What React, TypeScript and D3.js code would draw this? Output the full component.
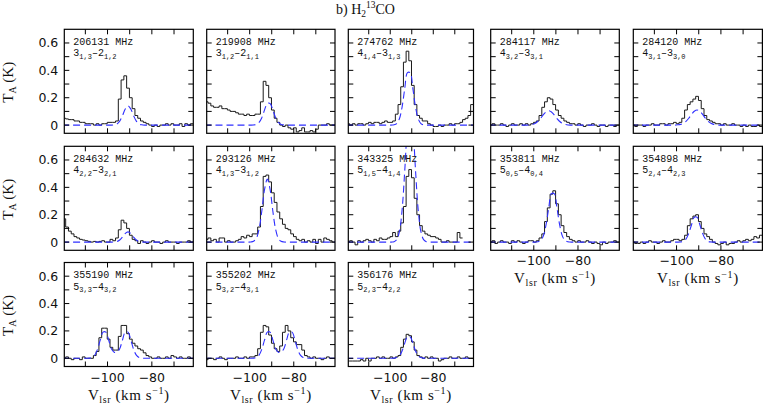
import React from 'react';
import * as d3 from 'd3';

// channel centres (km/s)
const VEL = [-119.5, -118.25, -117, -115.75, -114.5, -113.25, -112, -110.75, -109.5, -108.25,
  -107, -105.75, -104.5, -103.25, -102, -100.75, -99.5, -98.25, -97, -95.75,
  -94.5, -93.25, -92, -90.75, -89.5, -88.25, -87, -85.75, -84.5, -83.25,
  -82, -80.75, -79.5, -78.25, -77, -75.75, -74.5, -73.25, -72, -70.75,
  -69.5, -68.25, -67, -65.75, -64.5, -63.25, -62];

const X_TICKS = [-110, -100, -90, -80, -70];
const X_TICK_LABELS = [-100, -80];
const Y_TICKS = [0, 0.1, 0.2, 0.3, 0.4, 0.5, 0.6];
const Y_TICK_LABELS = [0, 0.2, 0.4, 0.6];

const FREQS = ['206131 MHz', '219908 MHz', '274762 MHz', '284117 MHz', '284120 MHz',
  '284632 MHz', '293126 MHz', '343325 MHz', '353811 MHz', '354898 MHz',
  '355190 MHz', '355202 MHz', '356176 MHz'];

// [upper J, upper Ka,Kc, lower J, lower Ka,Kc]
const TRANSITIONS = [
  ['3', '1,3', '2', '1,2'], ['3', '1,2', '2', '1,1'], ['4', '1,4', '3', '1,3'], ['4', '3,2', '3', '3,1'], ['4', '3,1', '3', '3,0'],
  ['4', '2,2', '3', '2,1'], ['4', '1,3', '3', '1,2'], ['5', '1,5', '4', '1,4'], ['5', '0,5', '4', '0,4'], ['5', '2,4', '4', '2,3'],
  ['5', '3,3', '4', '3,2'], ['5', '3,2', '4', '3,1'], ['5', '2,3', '4', '2,2'],
];

// observed spectra (K)
const S1 = [0.05, 0.045, 0.04, 0.04, 0.03, 0.03, 0.02, 0.02, 0.01, 0.01, 0.01, 0.0, 0.01, 0.0, 0.01, 0.01, 0.02, 0.02, 0.02, 0.03,
  0.19, 0.33, 0.36, 0.27, 0.2, 0.12, 0.07, 0.05, 0.03,
  0.02, 0.01, 0.0, -0.01, 0.0, -0.01, 0.0, 0.0, 0.01, 0.0, 0.01, 0.0, 0.0, 0.01, -0.01, 0.01, 0.0, 0.01];
const S2 = [0.17, 0.16, 0.14, 0.13, 0.13, 0.14, 0.12, 0.12, 0.11, 0.10, 0.10, 0.09, 0.08, 0.08, 0.07, 0.08, 0.07, 0.07, 0.08, 0.08,
  0.17, 0.32, 0.29, 0.2, 0.11, 0.05, 0.02, 0.0, -0.01,
  0.0, -0.02, -0.03, -0.02, -0.05, -0.04, -0.02, -0.05, -0.05, -0.04, -0.05, -0.03, 0.0, 0.0, 0.0, 0.01, 0.0, 0.0];
const S3 = [0.01, 0.0, 0.01, 0.0, 0.01, 0.01, 0.0, 0.01, 0.02, 0.01, 0.02, 0.02, 0.01, 0.02, 0.03, 0.02, 0.02,
  0.03, 0.08, 0.15, 0.28, 0.46, 0.54, 0.47, 0.29, 0.15, 0.07, 0.05, 0.03,
  0.03, 0.01, 0.0, -0.01, -0.01, 0.0, -0.01, 0.0, 0.0, 0.01, 0.0, 0.01, 0.01, 0.02, 0.04, 0.05, 0.07, 0.15];
const S4 = [0.0, 0.01, 0.0, 0.0, 0.01, 0.0, -0.01, 0.0, 0.01, 0.0, 0.0, 0.01, 0.0, 0.01, 0.0, 0.01,
  0.02, 0.03, 0.07, 0.13, 0.17, 0.2, 0.19, 0.15, 0.11, 0.07, 0.05, 0.03, 0.02,
  0.01, 0.01, 0.0, 0.01, 0.0, -0.01, 0.0, 0.0, 0.01, 0.0, -0.01, 0.0, 0.0, -0.01, 0.0, 0.0, -0.01, 0.0];
const S5 = [0.0, -0.01, 0.0, 0.0, -0.01, 0.0, 0.0, 0.01, 0.0, 0.0, 0.01, 0.01, 0.0, 0.01, 0.01, 0.02, 0.01, 0.02,
  0.05, 0.11, 0.15, 0.17, 0.19, 0.21, 0.18, 0.12, 0.07, 0.04, 0.03,
  0.02, 0.01, 0.01, 0.0, 0.01, 0.0, 0.0, 0.01, 0.0, 0.0, -0.01, 0.0, -0.01, 0.0, -0.01, -0.01, 0.0, -0.01];
const S6 = [0.17, 0.11, 0.08, 0.06, 0.04, 0.03, 0.02, 0.015, 0.01, 0.005, 0.0, 0.005, 0.0, 0.005, 0.01, 0.0, 0.0,
  0.02, 0.01, 0.03, 0.09, 0.16, 0.14, 0.1, 0.05, 0.02, 0.01, -0.01, 0.01,
  0.0, -0.01, 0.0, 0.01, 0.0, 0.0, -0.01, 0.0, 0.01, 0.0, 0.0, 0.0, -0.01, 0.0, 0.0, 0.0, 0.01, 0.0];
const S7 = [0.02, 0.03, 0.01, 0.02, 0.0, 0.03, 0.03, 0.0, 0.01, 0.0, 0.0, 0.01, 0.02,
  0.04, 0.03, 0.05, 0.04, 0.06, 0.06, 0.11, 0.26, 0.48, 0.49, 0.44, 0.36, 0.29, 0.22, 0.17, 0.13, 0.1, 0.09, 0.06, 0.04,
  0.02, 0.01, 0.02, 0.0, 0.01, 0.0, 0.02, -0.01, 0.02, 0.0, 0.03, 0.02, 0.01, 0.0];
const S8 = [0.0, 0.01, 0.0, -0.02, 0.01, 0.0, 0.01, 0.02, 0.01, 0.0, 0.02, 0.01, 0.03, 0.02, 0.02,
  0.03, 0.04, 0.07, 0.04, 0.08, 0.14, 0.26, 0.48, 0.53, 0.47, 0.32, 0.2, 0.12, 0.08, 0.06, 0.05,
  0.04, 0.04, 0.03, 0.02, 0.0, 0.0, 0.01, 0.0, 0.0, 0.0, 0.07, 0.03,
  null, null, null, null];
const S9 = [0.0, 0.01, -0.01, 0.0, 0.01, 0.0, 0.0, -0.01, 0.01, 0.0, 0.01, 0.0, -0.01, 0.0, 0.01, 0.01, 0.0, 0.01,
  0.03, 0.06, 0.15, 0.25, 0.35, 0.375, 0.28, 0.2, 0.12, 0.07, 0.04, 0.02,
  0.01, 0.0, 0.01, 0.0, 0.0, 0.01, 0.0, -0.01, 0.0, -0.01, -0.02, 0.0, -0.01, 0.0, 0.0, 0.01, 0.0];
const S10 = [0.0, -0.01, -0.01, 0.0, -0.01, 0.0, 0.01, 0.0, 0.0, -0.01, 0.0, 0.01, 0.0, 0.0, 0.01, 0.02, 0.02, 0.01, 0.02,
  0.05, 0.12, 0.17, 0.19, 0.2, 0.15, 0.1, 0.06, 0.04, 0.02,
  0.0, -0.01, -0.02, -0.01, 0.0, -0.02, -0.01, -0.01, 0.0, 0.01, 0.0, 0.01, 0.02, 0.01, 0.02, 0.04, 0.03, 0.05];
const S11 = [0.0, 0.01, 0.0, -0.01, 0.0, 0.0, -0.01, 0.01, 0.0, 0.0,
  0.0, 0.02, 0.05, 0.15, 0.22, 0.22, 0.14, 0.08, 0.06, 0.06, 0.16, 0.24, 0.24, 0.18, 0.14, 0.11, 0.09, 0.07, 0.06, 0.04, 0.02, 0.01, 0.0, 0.0,
  0.01, 0.0, 0.0, 0.01, 0.0, 0.02, 0.01, 0.0, 0.01, 0.0, 0.0, 0.01, 0.0];
const S12 = [-0.01, 0.0, 0.0, -0.01, 0.0, 0.01, 0.0, -0.01, 0.0, 0.0, 0.0, 0.01, 0.0, 0.0, 0.01, 0.0, 0.01, 0.01,
  0.02, 0.07, 0.19, 0.24, 0.23, 0.17, 0.11, 0.07, 0.05, 0.09, 0.19, 0.24, 0.2, 0.15, 0.12, 0.1, 0.1, 0.06, 0.02, 0.01,
  0.0, 0.01, 0.0, 0.0, -0.01, 0.0, 0.01, 0.0, 0.0];
const S13 = [-0.02, -0.02, -0.02, -0.02, -0.02, -0.01, -0.02, 0.0, -0.02, 0.0, 0.0, 0.01, 0.0, 0.01, 0.0, 0.0, 0.01,
  0.0, 0.01, 0.02, 0.08, 0.14, 0.175, 0.165, 0.12, 0.06, 0.02, 0.01, 0.0,
  0.01, 0.0, 0.01, 0.0, 0.0, -0.02, -0.01, 0.0, 0.0, 0.01, 0.0, 0.0, 0.01, 0.0, 0.0, 0.01, 0.0, 0.0];

// fitted profiles (K), same channels
const F1 = [0, 0, 0, 0, 0, 0, 0, 0, 0, 0, 0, 0, 0, 0, 0, 0, 0, 0, 0.002, 0.008,
  0.029, 0.069, 0.117, 0.14, 0.117, 0.069, 0.029, 0.008, 0.002, 0,
  0, 0, 0, 0, 0, 0, 0, 0, 0, 0, 0, 0, 0, 0, 0, 0, 0];
const F2 = [0, 0, 0, 0, 0, 0, 0, 0, 0, 0, 0, 0, 0, 0, 0, 0, 0, 0.001, 0.005, 0.019,
  0.054, 0.111, 0.158, 0.158, 0.111, 0.054, 0.019, 0.005, 0.001, 0,
  0, 0, 0, 0, 0, 0, 0, 0, 0, 0, 0, 0, 0, 0, 0, 0, 0];
const F3 = [0, 0, 0, 0, 0, 0, 0, 0, 0, 0, 0, 0, 0, 0, 0, 0, 0, 0.002, 0.011, 0.046,
  0.132, 0.268, 0.383, 0.383, 0.268, 0.132, 0.046, 0.011, 0.002, 0,
  0, 0, 0, 0, 0, 0, 0, 0, 0, 0, 0, 0, 0, 0, 0, 0, 0];
const F4 = [0, 0, 0, 0, 0, 0, 0, 0, 0, 0, 0, 0, 0, 0, 0.001, 0.005, 0.012, 0.026, 0.048, 0.074,
  0.096, 0.105, 0.096, 0.074, 0.048, 0.026, 0.012, 0.005, 0.001, 0,
  0, 0, 0, 0, 0, 0, 0, 0, 0, 0, 0, 0, 0, 0, 0, 0, 0];
const F5 = [0, 0, 0, 0, 0, 0, 0, 0, 0, 0, 0, 0, 0, 0, 0, 0, 0.002, 0.005, 0.013, 0.027,
  0.05, 0.078, 0.101, 0.11, 0.101, 0.078, 0.05, 0.027, 0.013, 0.005,
  0.002, 0, 0, 0, 0, 0, 0, 0, 0, 0, 0, 0, 0, 0, 0, 0, 0];
const F6 = [0, 0, 0, 0, 0, 0, 0, 0, 0, 0, 0, 0, 0, 0, 0, 0, 0, 0, 0.001, 0.004,
  0.015, 0.037, 0.063, 0.075, 0.063, 0.037, 0.015, 0.004, 0.001, 0,
  0, 0, 0, 0, 0, 0, 0, 0, 0, 0, 0, 0, 0, 0, 0, 0, 0];
const F7 = [0, 0, 0, 0, 0, 0, 0, 0, 0, 0, 0, 0, 0, 0, 0, 0, 0.001, 0.006, 0.027, 0.094,
  0.227, 0.385, 0.46, 0.385, 0.227, 0.094, 0.027, 0.006, 0.001, 0,
  0, 0, 0, 0, 0, 0, 0, 0, 0, 0, 0, 0, 0, 0, 0, 0, 0];
const F8 = [0, 0, 0, 0, 0, 0, 0, 0, 0, 0, 0, 0, 0, 0, 0, 0, 0, 0.003, 0.018, 0.076,
  0.234, 0.524, 0.851, 1.0, 0.851, 0.524, 0.234, 0.076, 0.018, 0.003,
  0, 0, 0, 0, 0, 0, 0, 0, 0, 0, 0, 0, 0, 0, 0, 0, 0];
const F9 = [0, 0, 0, 0, 0, 0, 0, 0, 0, 0, 0, 0, 0, 0, 0, 0, 0, 0.002, 0.01, 0.042,
  0.122, 0.248, 0.354, 0.354, 0.248, 0.122, 0.042, 0.01, 0.002, 0,
  0, 0, 0, 0, 0, 0, 0, 0, 0, 0, 0, 0, 0, 0, 0, 0, 0];
const F10 = [0, 0, 0, 0, 0, 0, 0, 0, 0, 0, 0, 0, 0, 0, 0, 0, 0, 0.001, 0.005, 0.022,
  0.063, 0.127, 0.182, 0.182, 0.127, 0.063, 0.022, 0.005, 0.001, 0,
  0, 0, 0, 0, 0, 0, 0, 0, 0, 0, 0, 0, 0, 0, 0, 0, 0];
const F11 = [0, 0, 0, 0, 0, 0, 0, 0, 0, 0.001, 0.006, 0.023, 0.066, 0.134, 0.191, 0.191, 0.134, 0.07, 0.045, 0.045,
  0.07, 0.134, 0.191, 0.191, 0.134, 0.066, 0.023, 0.006, 0.001, 0,
  0, 0, 0, 0, 0, 0, 0, 0, 0, 0, 0, 0, 0, 0, 0, 0, 0];
const F12 = [0, 0, 0, 0, 0, 0, 0, 0, 0, 0, 0, 0, 0, 0, 0, 0, 0, 0.001, 0.006, 0.023,
  0.066, 0.134, 0.191, 0.191, 0.134, 0.07, 0.045, 0.045, 0.07, 0.134,
  0.191, 0.191, 0.134, 0.066, 0.023, 0.006, 0.001, 0, 0, 0, 0, 0, 0, 0, 0, 0, 0];
const F13 = [0, 0, 0, 0, 0, 0, 0, 0, 0, 0, 0, 0, 0, 0, 0, 0, 0, 0.001, 0.005, 0.019,
  0.054, 0.111, 0.158, 0.158, 0.111, 0.054, 0.019, 0.005, 0.001, 0,
  0, 0, 0, 0, 0, 0, 0, 0, 0, 0, 0, 0, 0, 0, 0, 0, 0];

const SPECTRA = [S1, S2, S3, S4, S5, S6, S7, S8, S9, S10, S11, S12, S13];
const FITS = [F1, F2, F3, F4, F5, F6, F7, F8, F9, F10, F11, F12, F13];

// layout
const W = 763;
const H = 403;
const COLS: [number, number][] = [[64.3, 193.3], [206.7, 335], [348.3, 473.5], [490.7, 619.3], [633.3, 762.4]];
const ROW_TOPS = [29.3, 146.3, 262.5];
const ROW_H = 104;
const X_DOMAIN: [number, number] = [-119.5, -61.3];
const Y_DOMAIN: [number, number] = [-0.06, 0.7];
const TICK = 5;

const SANS = '"DejaVu Sans", sans-serif';
const SERIF = '"Liberation Serif", "Times New Roman", serif';
const MONO = '"Liberation Mono", "DejaVu Sans Mono", monospace';
const FIT_COLOR = '#2f2fff';

type Pt = [number, number] | null;

function stepPoints(vals: (number | null)[]): Pt[] {
  const half = (VEL[1] - VEL[0]) / 2;
  const pts: Pt[] = [];
  for (let i = 0; i < vals.length; i++) {
    const v = vals[i];
    if (v == null) { pts.push(null); continue; }
    pts.push([VEL[i] - half, v]);
    if (i === vals.length - 1 || vals[i + 1] == null) pts.push([VEL[i] + half, v]);
  }
  return pts;
}

function Panel({ idx, row, col, showX }: { idx: number; row: number; col: number; showX: boolean }) {
  const [x0, x1] = COLS[col];
  const top = ROW_TOPS[row];
  const bottom = top + ROW_H;
  const x = d3.scaleLinear().domain(X_DOMAIN).range([x0, x1]);
  const y = d3.scaleLinear().domain(Y_DOMAIN).range([bottom, top]);
  const clipId = `clip-${idx}`;

  const stepLine = d3.line<Pt>()
    .defined((d) => d != null)
    .x((d) => x((d as [number, number])[0]))
    .y((d) => y((d as [number, number])[1]))
    .curve(d3.curveStepAfter);

  const fit = FITS[idx];
  const fitData = [fit[0], ...fit, fit[fit.length - 1]];
  const fitPath = d3.line<number>()
    .x((_, i) => x(i === 0 ? X_DOMAIN[0] - 1 : i === fitData.length - 1 ? X_DOMAIN[1] + 1 : VEL[i - 1]))
    .y((d) => y(d))
    .curve(d3.curveCatmullRom.alpha(0.5))(fitData);

  const tr = TRANSITIONS[idx];
  const cx = (x0 + x1) / 2;

  return (
    <g>
      <defs>
        <clipPath id={clipId}>
          <rect x={x0} y={top} width={x1 - x0} height={ROW_H} />
        </clipPath>
      </defs>
      <g clipPath={`url(#${clipId})`}>
        <path d={stepLine(stepPoints(SPECTRA[idx])) || ''} fill="none" stroke="#1a1a1a" strokeWidth={1} />
        <path d={fitPath || ''} fill="none" stroke={FIT_COLOR} strokeWidth={1.1} strokeDasharray="7,4" />
      </g>
      <rect x={x0} y={top} width={x1 - x0} height={ROW_H} fill="none" stroke="#000" strokeWidth={1.2} />
      {X_TICKS.map((t) => (
        <g key={`xt${t}`} stroke="#000" strokeWidth={1}>
          <line x1={x(t)} x2={x(t)} y1={bottom} y2={bottom - TICK} />
          <line x1={x(t)} x2={x(t)} y1={top} y2={top + TICK} />
        </g>
      ))}
      {Y_TICKS.map((t) => (
        <g key={`yt${t}`} stroke="#000" strokeWidth={1}>
          <line x1={x0} x2={x0 + TICK} y1={y(t)} y2={y(t)} />
          <line x1={x1} x2={x1 - TICK} y1={y(t)} y2={y(t)} />
        </g>
      ))}
      <text x={x0 + 9} y={top + 15.5} fontFamily={MONO} fontSize={10} fill="#111">{FREQS[idx]}</text>
      <text x={x0 + 9} y={top + 27} fontFamily={MONO} fontSize={10} fill="#111">
        <tspan>{tr[0]}</tspan>
        <tspan dy={2.5} fontSize={7}>{tr[1]}</tspan>
        <tspan dy={-2.5}>{'\u2013' + tr[2]}</tspan>
        <tspan dy={2.5} fontSize={7}>{tr[3]}</tspan>
      </text>
      {col === 0 && Y_TICK_LABELS.map((t) => (
        <text key={`yl${t}`} x={x0 - 6} y={y(t)} dy="0.36em" textAnchor="end" fontFamily={SANS} fontSize={12.5} fill="#111">
          {String(t)}
        </text>
      ))}
      {col === 0 && (
        <text transform={`translate(13,${top + ROW_H / 2 + 1}) rotate(-90)`} textAnchor="middle" fontFamily={SERIF} fontSize={15} fill="#111">
          T<tspan dy={3} fontSize={10}>A</tspan><tspan dy={-3}> (K)</tspan>
        </text>
      )}
      {showX && X_TICK_LABELS.map((t) => (
        <text key={`xl${t}`} x={x(t)} y={bottom + 15} textAnchor="middle" fontFamily={SANS} fontSize={12.5} fill="#111">
          {'\u2212' + String(Math.abs(t))}
        </text>
      ))}
      {showX && (
        <text x={cx} y={bottom + 33} textAnchor="middle" fontFamily={SERIF} fontSize={15} letterSpacing={0.6} fill="#111">
          V<tspan dy={3} fontSize={10}>lsr</tspan><tspan dy={-3}> (km s</tspan><tspan dy={-5.5} fontSize={10}>{'\u22121'}</tspan><tspan dy={5.5}>)</tspan>
        </text>
      )}
    </g>
  );
}

const PANELS = [
  { row: 0, col: 0, x: false }, { row: 0, col: 1, x: false }, { row: 0, col: 2, x: false }, { row: 0, col: 3, x: false }, { row: 0, col: 4, x: false },
  { row: 1, col: 0, x: false }, { row: 1, col: 1, x: false }, { row: 1, col: 2, x: false }, { row: 1, col: 3, x: true }, { row: 1, col: 4, x: true },
  { row: 2, col: 0, x: true }, { row: 2, col: 1, x: true }, { row: 2, col: 2, x: true },
];

export default function App() {
  return (
    <svg width={W} height={H} viewBox={`0 0 ${W} ${H}`} style={{ position: 'absolute', left: 0, top: 0, display: 'block', background: '#fff' }}>
      <rect x={0} y={0} width={W} height={H} fill="#fff" />
      <text x={336} y={14} fontFamily={SERIF} fontSize={14} fill="#111">
        b)  H<tspan dy={3} fontSize={9.5}>2</tspan><tspan dy={-9} fontSize={9.5}>13</tspan><tspan dy={6}>CO</tspan>
      </text>
      {PANELS.map((p, i) => (
        <Panel key={i} idx={i} row={p.row} col={p.col} showX={p.x} />
      ))}
    </svg>
  );
}
